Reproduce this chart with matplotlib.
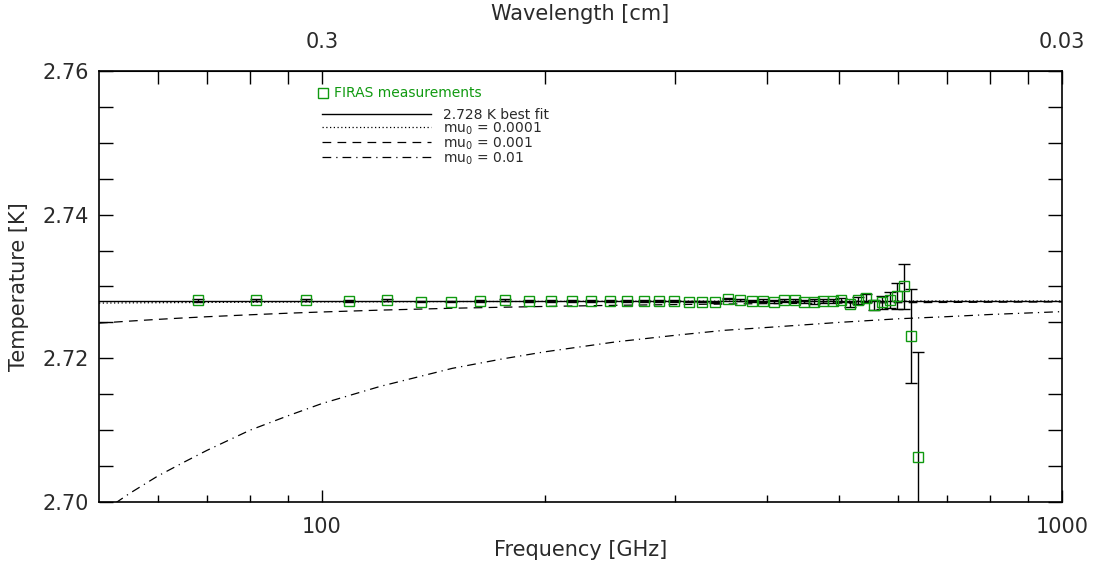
#!/usr/bin/env python3
"""FIRAS CMB brightness temperature vs frequency, with mu-distortion curves."""

import matplotlib
matplotlib.use("Agg")
import matplotlib.pyplot as plt
from matplotlib.lines import Line2D

# FIRAS measurements (GHz, K)
freq_ghz = [68.0, 81.5, 95.3, 108.8, 122.3, 136.1, 149.6, 163.4, 176.9, 190.4,
            204.2, 217.6, 231.1, 244.9, 258.4, 272.2, 285.7, 299.2, 313.0, 326.5,
            340.0, 353.8, 367.2, 381.0, 394.5, 408.0, 421.8, 435.3, 448.8, 462.6,
            476.1, 489.9, 503.3, 516.8, 530.6, 544.1, 557.9, 571.4, 584.9, 598.7,
            612.2, 625.7, 639.4]
temp_k = [2.7281, 2.7281, 2.7281, 2.7280, 2.7281, 2.7279, 2.7279, 2.7280, 2.7281, 2.7280,
          2.7280, 2.7280, 2.7280, 2.7280, 2.7280, 2.7280, 2.7280, 2.7280, 2.7279, 2.7279,
          2.7278, 2.7283, 2.7281, 2.7280, 2.7280, 2.7279, 2.7281, 2.7281, 2.7279, 2.7279,
          2.7280, 2.7280, 2.7281, 2.7275, 2.7281, 2.7284, 2.7274, 2.7278, 2.7281, 2.7287,
          2.7300, 2.7231, 2.7063]
temp_err = [0.0002, 0.0001, 0.0001, 0.0001, 0.0001, 0.0001, 0.0001, 0.0001, 0.0001, 0.0001,
            0.0001, 0.0001, 0.0001, 0.0001, 0.0001, 0.0001, 0.0001, 0.0001, 0.0001, 0.0001,
            0.0001, 0.0001, 0.0001, 0.0001, 0.0002, 0.0002, 0.0002, 0.0002, 0.0002, 0.0003,
            0.0003, 0.0003, 0.0003, 0.0004, 0.0005, 0.0006, 0.0007, 0.0009, 0.0011, 0.0018,
            0.0031, 0.0065, 0.0146]

# best fit
fit_freq = [50, 1000]
fit_temp = [2.728, 2.728]

# mu-distortion curves
model_freq = [50, 55, 60, 65, 70, 80, 90, 100, 120, 150, 175, 200, 250, 300, 350,
              400, 500, 600, 700, 800, 1000]
mu_1e4 = [2.72769, 2.72772, 2.72774, 2.72776, 2.72778, 2.72781, 2.72783, 2.72785,
          2.72787, 2.72790, 2.72791, 2.72792, 2.72794, 2.72795, 2.72796, 2.72796,
          2.72797, 2.72797, 2.72798, 2.72798, 2.72798]
mu_1e3 = [2.72490, 2.72518, 2.72542, 2.72562, 2.72579, 2.72606, 2.72628, 2.72645,
          2.72671, 2.72697, 2.72711, 2.72722, 2.72738, 2.72748, 2.72756, 2.72761,
          2.72769, 2.72774, 2.72778, 2.72781, 2.72785]
mu_1e2 = [2.6983, 2.7012, 2.7036, 2.7055, 2.7072, 2.7100, 2.7120, 2.7137, 2.7161,
          2.7186, 2.7199, 2.7209, 2.7223, 2.7232, 2.7239, 2.7243, 2.7250, 2.7255,
          2.7258, 2.7261, 2.7265]

minor_freq = [60, 70, 80, 90, 200, 300, 400, 500, 600, 700, 800, 900]

TXT = "#2a2a2a"
GREEN = "#109a10"

plt.rcParams["font.family"] = ["DejaVu Sans"]

fig = plt.figure(figsize=(10.93, 5.66), dpi=100)
ax = fig.add_axes([0.0906, 0.1131, 0.8810, 0.7615])

ax.plot(fit_freq, fit_temp, color="black", lw=1.0)
ax.plot(model_freq, mu_1e4, color="black", lw=0.9, linestyle=(0, (1, 2)))
ax.plot(model_freq, mu_1e3, color="black", lw=0.9, linestyle=(0, (7, 5)))
ax.plot(model_freq, mu_1e2, color="black", lw=0.9, linestyle=(0, (7, 4, 1, 4)))

ax.errorbar(freq_ghz, temp_k, yerr=temp_err, fmt="none", ecolor="black",
            elinewidth=1.0, capsize=4.5, capthick=1.0)
ax.plot(freq_ghz, temp_k, linestyle="none", marker="s", markersize=7,
        markerfacecolor="none", markeredgecolor=GREEN, markeredgewidth=1.0)

ax.set_xscale("log")
ax.set_xlim(50, 1000)
ax.set_ylim(2.70, 2.76)

ax.set_xticks([100, 1000], labels=["100", "1000"])
ax.set_xticks(minor_freq, minor=True)
ax.xaxis.set_minor_formatter(plt.NullFormatter())
ax.set_yticks([2.70, 2.72, 2.74, 2.76], labels=["2.70", "2.72", "2.74", "2.76"])
ax.set_yticks([2.705, 2.71, 2.715, 2.725, 2.73, 2.735, 2.745, 2.75, 2.755], minor=True)

ax.tick_params(axis="x", which="major", direction="in", length=9, width=1,
               top=False, labelsize=15, labelcolor=TXT, pad=11)
ax.tick_params(axis="x", which="minor", direction="in", length=5, width=1, top=False)
ax.tick_params(axis="y", which="both", direction="in", length=10, width=1,
               right=True, labelsize=15, labelcolor=TXT, pad=7)

for sp in ax.spines.values():
    sp.set_linewidth(1.2)

top = ax.secondary_xaxis("top")
top.set_xticks([100, 1000], labels=["0.3", "0.03"])
top.set_xticks(minor_freq, minor=True)
top.xaxis.set_minor_formatter(plt.NullFormatter())
top.tick_params(which="both", direction="in", length=9, width=1,
                labelsize=15, labelcolor=TXT, pad=14)
top.set_xlabel("Wavelength [cm]", fontsize=15, color=TXT, labelpad=8)

ax.set_xlabel("Frequency [GHz]", fontsize=15, color=TXT, labelpad=2)
ax.set_ylabel("Temperature [K]", fontsize=15, color=TXT, labelpad=10)

# legend: marker entry and line entries
h_meas = Line2D([], [], linestyle="none", marker="s", markersize=7,
                markerfacecolor="none", markeredgecolor=GREEN, markeredgewidth=1.0)
leg1 = ax.legend([h_meas], ["FIRAS measurements"], loc="upper left",
                 bbox_to_anchor=(0.228, 0.964), frameon=False, fontsize=10,
                 labelcolor=GREEN, handlelength=0.6, handletextpad=0.5,
                 borderpad=0, borderaxespad=0)
ax.add_artist(leg1)

h_lines = [Line2D([], [], color="black", lw=1.0),
           Line2D([], [], color="black", lw=0.9, linestyle=(0, (1, 2))),
           Line2D([], [], color="black", lw=0.9, linestyle=(0, (7, 5))),
           Line2D([], [], color="black", lw=0.9, linestyle=(0, (7, 4, 1, 4)))]
labels = ["2.728 K best fit", "mu$_0$ = 0.0001", "mu$_0$ = 0.001", "mu$_0$ = 0.01"]
ax.legend(h_lines, labels, loc="upper left", bbox_to_anchor=(0.232, 0.915),
          frameon=False, fontsize=10, labelcolor=TXT, handlelength=7.8,
          handletextpad=0.9, labelspacing=-0.10, borderpad=0, borderaxespad=0)

fig.savefig("out.png", dpi=100)
